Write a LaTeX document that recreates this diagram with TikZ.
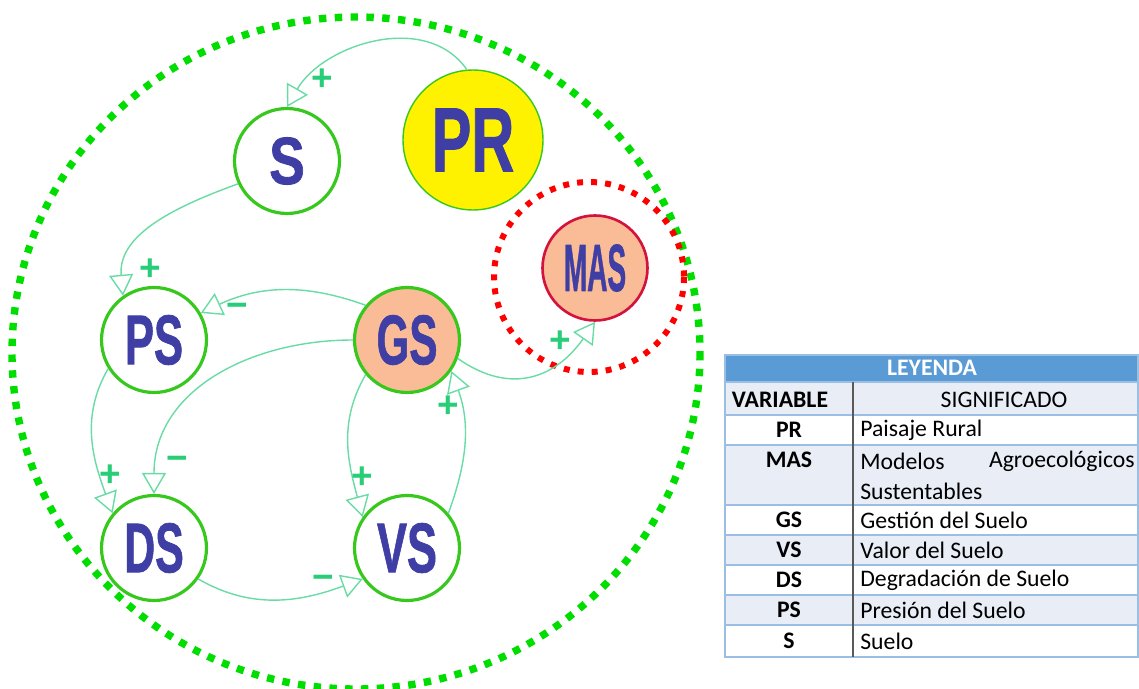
\documentclass[tikz,border=0pt]{standalone}
\usepackage{fontspec}
\setmainfont{Carlito}
\newfontfamily\varfont{Liberation Sans}[BoldFeatures={FakeBold=1.2}]
\newfontfamily\signfont{Liberation Sans}
\usetikzlibrary{arrows.meta}
\definecolor{ring}{RGB}{0,222,0}
\definecolor{rim}{RGB}{55,200,30}
\definecolor{ink}{RGB}{62,62,165}
\definecolor{peach}{RGB}{250,188,150}
\definecolor{link}{RGB}{105,220,165}
\definecolor{sgn}{RGB}{40,205,120}
\definecolor{crim}{RGB}{212,18,62}
\definecolor{head}{RGB}{91,155,213}
\definecolor{rowline}{RGB}{155,190,228}
\definecolor{rowfill}{RGB}{232,237,246}
\newcommand{\vtxt}[3]{\scalebox{#2}[1]{\fontsize{#1}{#1}\varfont\bfseries #3}}

\begin{document}
\begin{tikzpicture}[x=0.02cm,y=-0.02cm,
  var/.style={circle,draw=rim,line width=1.8pt,fill=white,minimum size=2.1cm,inner sep=0pt,text=ink},
  rel/.style={draw=link,line width=0.8pt,-{Triangle[open,length=4.2mm,width=4.8mm,line width=0.8pt]}},
  sign/.style={text=sgn,font=\fontsize{21}{21}\signfont\bfseries,inner sep=0pt},
  cell/.style={font=\fontsize{13.5}{15}\selectfont,inner sep=0pt},
  key/.style={cell,font=\fontsize{13.5}{15}\selectfont\bfseries}]
  \useasboundingbox (0,0) rectangle (1139,689);
  % outer and inner dotted rings
  \draw[ring,line width=4.2pt,dash pattern=on 4.2pt off 4.8pt] (356,353) ellipse [x radius=344,y radius=336];
  \draw[red,line width=3.4pt,dash pattern=on 3.4pt off 4.6pt] (589,277) circle [radius=95];
  % variables
  \node[var] (s) at (287,161) {\vtxt{38}{0.8}{S}};
  \node[var,fill=yellow,line width=0.8pt,minimum size=2.8cm] (pr) at (473,140) {\vtxt{52}{0.65}{PR}};
  \node[var,fill=peach,draw=crim,line width=1.5pt,minimum size=2.1cm] (mas) at (595,268) {\vtxt{38}{0.42}{MAS}};
  \node[var] (ps) at (154,340) {\vtxt{40}{0.62}{PS}};
  \node[var,fill=peach] (gs) at (407,340) {\vtxt{40}{0.6}{GS}};
  \node[var] (ds) at (154,548) {\vtxt{40}{0.61}{DS}};
  \node[var] (vs) at (407,548) {\vtxt{40}{0.64}{VS}};
  % relations
  \draw[rel] (pr.95) to[out=125,in=60] (s.north);
  \draw[rel] (s.205) to[out=200,in=95] (ps.125);
  \draw[rel] (gs.140) to[out=160,in=25] (ps.30);
  \draw[rel] (gs.west) to[out=180,in=90,looseness=1.05] (ds.north);
  \draw[rel] (ps.212) to[out=240,in=110] (ds.140);
  \draw[rel] (gs.220) to[out=240,in=105] (vs.145);
  \draw[rel] (vs.40) to[out=70,in=-70] (gs.-35);
  \draw[rel] (ds.-35) to[out=-30,in=200] (vs.215);
  \draw[rel] (gs.-20) to[out=-35,in=235,looseness=1.2] (mas.south);
  \foreach \sx/\sy/\t in {322/80/+,150/270/+,237/310/−,177/463/−,110/476/+,362/478/+,448/407/+,323/582/−,560/342/+}
    \node[sign] at (\sx,\sy) {\t};
  % legend table
  \fill[head] (725,355) rectangle (1138,382);
  \foreach \t/\b/\c in {382/415/rowfill,415/445/white,445/505/rowfill,505/535/white,535/565/rowfill,565/595/white,595/625/rowfill,625/657/white}
    \filldraw[fill=\c,draw=rowline,line width=0.6pt] (725,\t) rectangle (1138,\b);
  \draw[rowline,line width=0.8pt] (725,355) rectangle (1138,657);
  \draw[black!65,line width=1pt] (853,382) -- (853,657);
  \node[key,text=white] (ley) at (932,368) {LEYENDA};
  \node[key] (vhd) at (780,400) {VARIABLE};
  \node[cell] (shd) at (1004,400) {SIGNIFICADO};
  \foreach \y/\v/\m in {430/PR/Paisaje Rural,520/GS/Gestión del Suelo,550/VS/Valor del Suelo,580/DS/Degradación de Suelo,610/PS/Presión del Suelo,641/S/Suelo} {
    \node[key] at (789,\y) {\v};
    \node[cell,anchor=west] at (860,\y) {\m};
  }
  \node[key] (kmas) at (789,460) {MAS};
  \node[cell,anchor=west] (m1) at (860,461) {Modelos};
  \node[cell,anchor=east] (m2) at (1135,461) {Agroecológicos};
  \node[cell,anchor=west] (m3) at (860,491) {Sustentables};
\end{tikzpicture}
\end{document}
